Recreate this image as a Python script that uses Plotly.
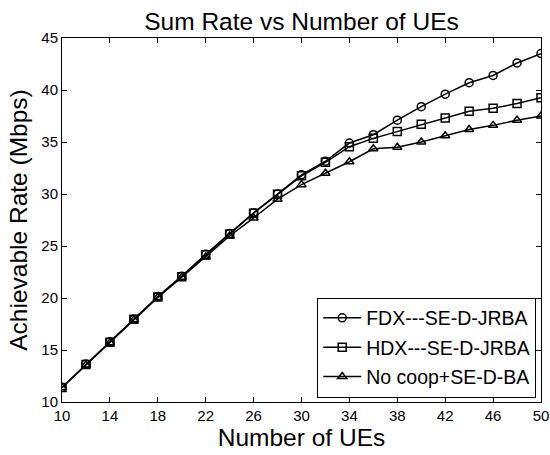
import plotly.graph_objects as go

num_ues = [10, 12, 14, 16, 18, 20, 22, 24, 26, 28, 30, 32, 34, 36, 38, 40, 42, 44, 46, 48, 50]
fdx = [11.4, 13.65, 15.8, 17.95, 20.15, 22.1, 24.2, 26.2, 28.2, 30.0, 31.85, 33.15, 34.9, 35.7, 37.1, 38.4, 39.6, 40.7, 41.4, 42.6, 43.5]
hdx = [11.4, 13.6, 15.75, 17.95, 20.1, 22.05, 24.15, 26.15, 28.15, 29.97, 31.75, 33.05, 34.55, 35.35, 36.0, 36.7, 37.3, 37.95, 38.25, 38.7, 39.25]
nocoop = [11.4, 13.55, 15.7, 17.9, 20.05, 22.0, 23.94, 25.96, 27.7, 29.5, 30.9, 32.0, 33.1, 34.35, 34.5, 35.0, 35.6, 36.2, 36.6, 37.1, 37.5]
names = ["FDX---SE-D-JRBA", "HDX---SE-D-JRBA", "No coop+SE-D-BA"]
symbols = ["circle-open", "square-open", "triangle-up-open"]
x_ticks = [10, 14, 18, 22, 26, 30, 34, 38, 42, 46, 50]
y_ticks = [10, 15, 20, 25, 30, 35, 40, 45]

font = "Liberation Sans, Arial, sans-serif"
fig = go.Figure()
for i, (ys, nm, sym) in enumerate(zip([fdx, hdx, nocoop], names, symbols)):
    fig.add_trace(go.Scatter(
        x=num_ues, y=ys, name=nm, mode="lines+markers", legendgroup=f"g{i}",
        line=dict(color="black", width=1.5),
        marker=dict(symbol=sym, size=8, color="black", line=dict(width=1.5, color="black")),
    ))

axis_common = dict(
    showline=True, linecolor="black", linewidth=1, mirror="ticks",
    ticks="inside", ticklen=5, tickcolor="black", showgrid=False, zeroline=False,
    tickfont=dict(family=font, size=15, color="black"), automargin=False,
)
fig.update_layout(
    width=550, height=455,
    margin=dict(l=62, r=9, t=38, b=53),
    paper_bgcolor="white", plot_bgcolor="white",
    title=dict(text="Sum Rate vs Number of UEs", xref="paper", x=0.5, xanchor="center",
               yref="container", y=1 - 21 / 455, yanchor="middle",
               font=dict(family=font, size=24.5, color="black")),
    xaxis=dict(range=[10, 50], tickvals=x_ticks,
               title=dict(text="Number of UEs", font=dict(family=font, size=24.5, color="black"), standoff=4),
               **axis_common),
    yaxis=dict(range=[10, 45], tickvals=y_ticks,
               title=dict(text="Achievable Rate (Mbps)", font=dict(family=font, size=24.5, color="black"), standoff=6),
               **axis_common),
    legend=dict(x=0.99, y=0.012, xanchor="right", yanchor="bottom",
                bgcolor="white", bordercolor="black", borderwidth=1, itemwidth=38,
                font=dict(family=font, size=19.5, color="black"), tracegroupgap=1),
    showlegend=True,
)
fig.write_html("out.html", config={"displayModeBar": False},
               post_script="document.body.style.margin='0px';")
